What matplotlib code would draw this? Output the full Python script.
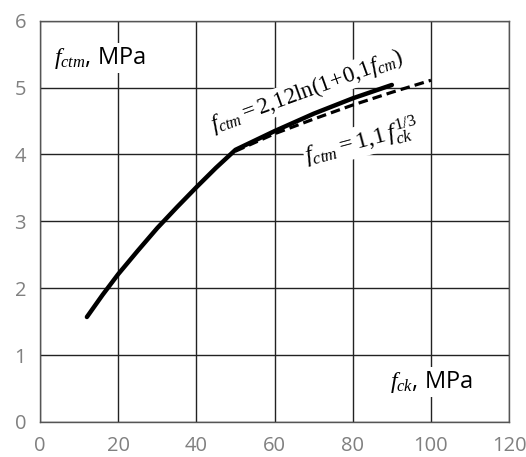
import matplotlib
matplotlib.use("Agg")
import matplotlib.pyplot as plt

plt.rcParams['font.family'] = ['Open Sans', 'DejaVu Sans']
plt.rcParams['mathtext.fontset'] = 'custom'
plt.rcParams['mathtext.rm'] = 'Liberation Serif'
plt.rcParams['mathtext.it'] = 'Liberation Serif:italic'
plt.rcParams['mathtext.bf'] = 'Liberation Serif:bold'

# solid curve: fctm from fck
fck_solid = [12, 16, 20, 25, 30, 35, 40, 45, 50, 55, 60, 70, 80, 90]
fctm_solid = [1.57, 1.90, 2.21, 2.56, 2.90, 3.21, 3.51, 3.80, 4.07,
              4.21, 4.35, 4.61, 4.84, 5.04]

# dashed curve
fck_dash = [50, 60, 70, 80, 90, 100]
fctm_dash = [4.05, 4.31, 4.53, 4.74, 4.93, 5.11]

xticks = [0, 20, 40, 60, 80, 100, 120]
yticks = [0, 1, 2, 3, 4, 5, 6]

fig = plt.figure(figsize=(5.26, 4.57), dpi=100)
ax = fig.add_axes([0.076, 0.0766, 0.892, 0.878])

ax.plot(fck_solid, fctm_solid, color='black', lw=3.2, solid_capstyle='round', zorder=3)
ax.plot(fck_dash, fctm_dash, color='black', lw=2.3, dashes=(3, 1.6), zorder=3)

ax.set_xlim(0, 120)
ax.set_ylim(0, 6)
ax.set_xticks(xticks)
ax.set_yticks(yticks)
ax.tick_params(length=0, labelsize=14.5, labelcolor='#808080')
ax.tick_params(axis='x', pad=10)
ax.tick_params(axis='y', pad=10)
ax.grid(True, color='#222222', lw=1)
ax.set_axisbelow(True)
for s in ax.spines.values():
    s.set_color('#555555')
    s.set_linewidth(1)

box = dict(facecolor='white', edgecolor='none', pad=1.5)

ax.text(3.7, 5.44, r'$f_{ctm}$, MPa', fontsize=17, ha='left', va='center', bbox=box, zorder=2)
ax.text(89.5, 0.6, r'$f_{ck}$, MPa', fontsize=17, ha='left', va='center', bbox=box, zorder=2)

ax.text(68.4, 4.95, r'$f_{ctm} = 2{,}12\ln(1\!+\!0{,}1f_{cm})$', fontsize=16.5,
        ha='center', va='center', rotation=20,
        bbox=dict(facecolor='white', edgecolor='none', pad=0.5), zorder=2)
ax.text(82.2, 4.2, r'$f_{ctm} = 1{,}1\,f_{ck}^{1/3}$', fontsize=17.5,
        ha='center', va='center', rotation=15,
        bbox=dict(facecolor='white', edgecolor='none', pad=0.5), zorder=2)

fig.savefig('out.png', dpi=100)
